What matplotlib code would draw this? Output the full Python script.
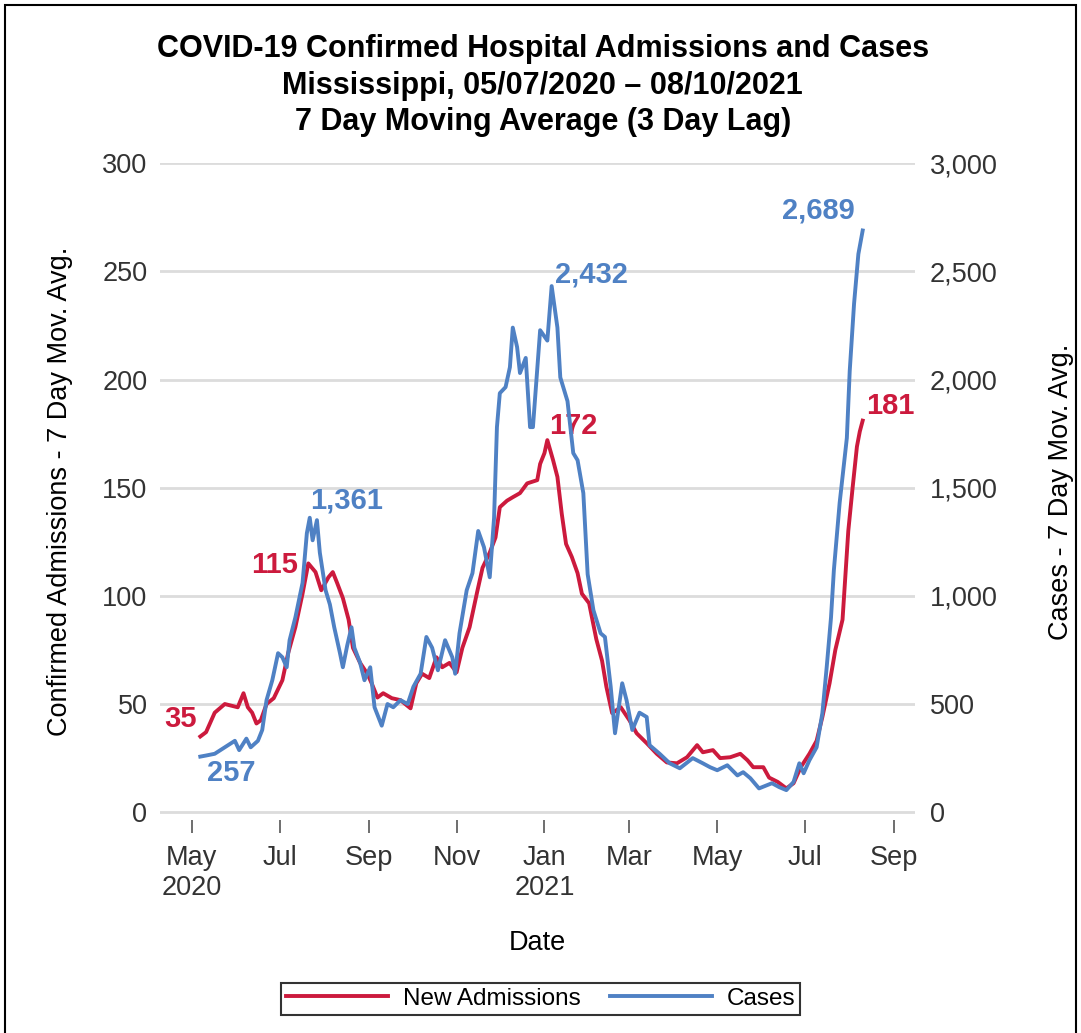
import matplotlib
matplotlib.use("Agg")
import matplotlib.pyplot as plt
import matplotlib.ticker as mticker
import pandas as pd
from matplotlib.patches import Rectangle

RED = "#CC1A3D"
BLUE = "#4F81C4"
FONT = ["Liberation Sans", "DejaVu Sans"]
NARROW = ["Liberation Sans Narrow", "Liberation Sans", "DejaVu Sans"]

# New admissions, 7 day moving average
adm_dates = [
    "2020-05-07", "2020-05-11", "2020-05-17", "2020-05-24", "2020-06-02", "2020-06-06",
    "2020-06-09", "2020-06-12", "2020-06-15", "2020-06-18", "2020-06-22", "2020-06-27",
    "2020-07-03", "2020-07-07", "2020-07-12", "2020-07-17", "2020-07-21", "2020-07-26",
    "2020-07-30", "2020-08-04", "2020-08-07", "2020-08-10", "2020-08-14", "2020-08-18",
    "2020-08-21", "2020-08-26", "2020-08-31", "2020-09-03", "2020-09-07", "2020-09-11",
    "2020-09-17", "2020-09-23", "2020-09-30", "2020-10-04", "2020-10-08", "2020-10-13",
    "2020-10-18", "2020-10-22", "2020-10-27", "2020-11-01", "2020-11-05", "2020-11-10",
    "2020-11-15", "2020-11-19", "2020-11-24", "2020-11-28", "2020-12-01", "2020-12-06",
    "2020-12-10", "2020-12-15", "2020-12-20", "2020-12-27", "2020-12-29", "2021-01-01",
    "2021-01-03", "2021-01-07", "2021-01-10", "2021-01-13", "2021-01-16", "2021-01-20",
    "2021-01-24", "2021-01-27", "2021-02-01", "2021-02-06", "2021-02-10", "2021-02-13",
    "2021-02-17", "2021-02-23", "2021-03-01", "2021-03-06", "2021-03-13", "2021-03-20",
    "2021-03-27", "2021-04-03", "2021-04-10", "2021-04-17", "2021-04-21", "2021-04-28",
    "2021-05-03", "2021-05-10", "2021-05-17", "2021-05-22", "2021-05-26", "2021-06-02",
    "2021-06-06", "2021-06-12", "2021-06-18", "2021-06-23", "2021-06-28", "2021-07-04",
    "2021-07-09", "2021-07-13", "2021-07-18", "2021-07-22", "2021-07-27", "2021-07-31",
    "2021-08-03", "2021-08-06", "2021-08-08", "2021-08-10",
]
adm_values = [
    35, 37, 46, 50, 48.5, 55,
    48.5, 46, 41, 42.5, 50, 52.7,
    61, 73.5, 85.5, 101, 115, 111,
    102.6, 108.6, 111, 106, 99, 89,
    76, 69, 64, 59.6, 53, 55,
    52.7, 51.8, 48, 59.6, 64, 62,
    71.6, 67, 69, 64.7, 76, 85.5,
    101, 113, 120, 127, 141, 144,
    145.6, 147.5, 152, 153.5, 161, 166,
    172, 162.7, 155, 138, 124, 118,
    110.5, 101, 96.6, 80, 70, 58,
    45.8, 48.5, 42.5, 36.5, 31.9, 27,
    23, 22.6, 25.4, 31, 27.7, 28.7,
    25, 25.4, 27, 24, 20.8, 20.8,
    16, 14, 11, 13.4, 20.8, 27,
    33, 44, 59.6, 75, 89, 130,
    150, 169, 176, 181,
]

# Cases, 7 day moving average
case_dates = [
    "2020-05-07", "2020-05-11", "2020-05-17", "2020-05-24", "2020-05-31", "2020-06-03",
    "2020-06-08", "2020-06-11", "2020-06-16", "2020-06-19", "2020-06-22", "2020-06-26",
    "2020-06-30", "2020-07-03", "2020-07-06", "2020-07-08", "2020-07-12", "2020-07-17",
    "2020-07-20", "2020-07-22", "2020-07-24", "2020-07-27", "2020-07-29", "2020-08-02",
    "2020-08-05", "2020-08-08", "2020-08-12", "2020-08-14", "2020-08-17", "2020-08-20",
    "2020-08-22", "2020-08-26", "2020-08-29", "2020-09-02", "2020-09-05", "2020-09-10",
    "2020-09-14", "2020-09-18", "2020-09-23", "2020-09-28", "2020-10-02", "2020-10-07",
    "2020-10-11", "2020-10-15", "2020-10-19", "2020-10-24", "2020-10-29", "2020-10-31",
    "2020-11-03", "2020-11-08", "2020-11-12", "2020-11-16", "2020-11-20", "2020-11-24",
    "2020-11-27", "2020-11-29", "2020-12-01", "2020-12-05", "2020-12-08", "2020-12-10",
    "2020-12-13", "2020-12-15", "2020-12-19", "2020-12-22", "2020-12-24", "2020-12-29",
    "2021-01-03", "2021-01-06", "2021-01-10", "2021-01-12", "2021-01-17", "2021-01-21",
    "2021-01-24", "2021-01-28", "2021-01-31", "2021-02-04", "2021-02-09", "2021-02-12",
    "2021-02-16", "2021-02-19", "2021-02-24", "2021-02-27", "2021-03-03", "2021-03-08",
    "2021-03-13", "2021-03-15", "2021-03-22", "2021-03-29", "2021-04-05", "2021-04-14",
    "2021-04-21", "2021-04-26", "2021-05-01", "2021-05-08", "2021-05-15", "2021-05-19",
    "2021-05-24", "2021-05-30", "2021-06-08", "2021-06-13", "2021-06-18", "2021-06-23",
    "2021-06-27", "2021-06-30", "2021-07-04", "2021-07-09", "2021-07-13", "2021-07-16",
    "2021-07-19", "2021-07-21", "2021-07-25", "2021-07-30", "2021-08-01", "2021-08-04",
    "2021-08-07", "2021-08-10",
]
case_values = [
    257, 262, 270, 300, 330, 287,
    340, 300, 330, 380, 518, 610,
    735, 716, 670, 795, 900, 1060,
    1290, 1361, 1257, 1350, 1200, 1026,
    960, 855, 735, 670, 770, 855,
    760, 690, 610, 670, 485, 400,
    500, 485, 518, 500, 580, 640,
    810, 760, 656, 795, 716, 640,
    827, 1026, 1105, 1300, 1225, 1086,
    1360, 1780, 1937, 1965, 2057, 2240,
    2150, 2030, 2100, 1780, 1780, 2228,
    2180, 2432, 2240, 2010, 1900, 1660,
    1627, 1475, 1100, 934, 827, 810,
    580, 365, 596, 518, 380, 460,
    440, 310, 270, 226, 203, 250,
    226, 208, 194, 217, 170, 185,
    157, 110, 134, 116, 102, 140,
    226, 180, 240, 300, 458, 670,
    900, 1120, 1430, 1730, 2040, 2350,
    2580, 2689,
]

x_ticks = ["2020-05-01", "2020-07-01", "2020-09-01", "2020-11-01", "2021-01-01",
           "2021-03-01", "2021-05-01", "2021-07-01", "2021-09-01"]
x_tick_labels = ["May\n2020", "Jul", "Sep", "Nov", "Jan\n2021", "Mar", "May", "Jul", "Sep"]
left_ticks = [0, 50, 100, 150, 200, 250, 300]
right_ticks = [0, 500, 1000, 1500, 2000, 2500, 3000]

adm = pd.Series(adm_values, index=pd.to_datetime(adm_dates))
cases = pd.Series(case_values, index=pd.to_datetime(case_dates))

plt.rcParams["font.family"] = FONT

fig = plt.figure(figsize=(10.81, 10.33), dpi=100)
ax = fig.add_axes([0.148, 0.206, 0.698, 0.636])
ax2 = ax.twinx()

ax.set_ylim(-3.7, 300)
ax2.set_ylim(-37, 3000)
ax.set_xlim(pd.Timestamp("2020-04-09"), pd.Timestamp("2021-09-15"))

ax.set_yticks(left_ticks)
ax2.set_yticks(right_ticks)
ax2.yaxis.set_major_formatter(mticker.FuncFormatter(lambda v, p: f"{int(v):,}"))
ax.set_xticks(pd.to_datetime(x_ticks))
ax.set_xticklabels(x_tick_labels)

for a in (ax, ax2):
    for s in a.spines.values():
        s.set_visible(False)
ax.grid(axis="y", color="#dcdcdc", linewidth=2)
ax.set_axisbelow(True)
ax.tick_params(axis="y", length=0, labelsize=19.5, colors="#333333", pad=9)
ax2.tick_params(axis="y", length=0, labelsize=19.5, colors="#333333", pad=11)
ax.tick_params(axis="x", length=9, width=1.2, color="#555555", labelsize=19.5,
               labelcolor="#333333", pad=9)

ln1, = ax.plot(adm.index, adm.values, color=RED, linewidth=2.8, label="New Admissions")
ln2, = ax2.plot(cases.index, cases.values, color=BLUE, linewidth=2.8, label="Cases")

ax.set_ylabel("Confirmed Admissions - 7 Day Mov. Avg.", fontsize=19.5, labelpad=21)
ax2.set_ylabel("Cases - 7 Day Mov. Avg.", fontsize=19.5, rotation=90, labelpad=36)
ax.set_xlabel("Date", fontsize=19.5, labelpad=21)

# value labels at start, peaks and end
bold = dict(fontsize=21, fontweight="bold", textcoords="offset pixels")
ax.annotate(f"{adm.iloc[0]:.0f}", (adm.index[0], adm.iloc[0]), xytext=(-4, 17),
            ha="right", va="center", color=RED, **bold)
ax2.annotate(f"{cases.iloc[0]:,.0f}", (cases.index[0], cases.iloc[0]), xytext=(7, -16),
             ha="left", va="center", color=BLUE, **bold)
first_wave = adm[:"2020-09-01"]
ax.annotate(f"{first_wave.max():.0f}", (first_wave.idxmax(), first_wave.max()),
            xytext=(-10, -2), ha="right", va="center", color=RED, **bold)
first_wave_c = cases[:"2020-09-01"]
ax2.annotate(f"{first_wave_c.max():,.0f}", (first_wave_c.idxmax(), first_wave_c.max()),
             xytext=(0, 17), ha="left", va="center", color=BLUE, **bold)
winter_c = cases["2020-11-01":"2021-03-01"]
ax2.annotate(f"{winter_c.max():,.0f}", (winter_c.idxmax(), winter_c.max()), xytext=(3, 12),
             ha="left", va="center", color=BLUE, **bold)
winter = adm["2020-11-01":"2021-03-01"]
ax.annotate(f"{winter.max():.0f}", (winter.idxmax(), winter.max()), xytext=(2, 14),
            ha="left", va="center", color=RED, **bold)
ax2.annotate(f"{cases.iloc[-1]:,.0f}", (cases.index[-1], cases.iloc[-1]), xytext=(-8, 20),
             ha="right", va="center", color=BLUE, **bold)
ax.annotate(f"{adm.iloc[-1]:.0f}", (adm.index[-1], adm.iloc[-1]), xytext=(3, 15),
            ha="left", va="center", color=RED, **bold)

fig.suptitle("COVID-19 Confirmed Hospital Admissions and Cases\n"
             "Mississippi, 05/07/2020 \u2013 08/10/2021\n"
             "7 Day Moving Average (3 Day Lag)",
             x=0.502, y=0.967, fontsize=22, fontweight="bold", family=NARROW,
             linespacing=1.28)

leg = fig.legend(handles=[ln1, ln2], loc="center", bbox_to_anchor=(0.5, 0.033), ncol=2,
                 fontsize=17.5, frameon=True, fancybox=False, handlelength=4.2,
                 columnspacing=1.2, borderpad=0.2, handletextpad=0.6)
leg.get_frame().set_edgecolor("black")
leg.get_frame().set_linewidth(1.5)

# outer frame of the image
fig.add_artist(Rectangle((5 / 1081, -0.05), 1071 / 1081, 1.05 - 5 / 1033,
                         transform=fig.transFigure, fill=False, edgecolor="black",
                         linewidth=1.5))

fig.savefig("out.png", dpi=100)
